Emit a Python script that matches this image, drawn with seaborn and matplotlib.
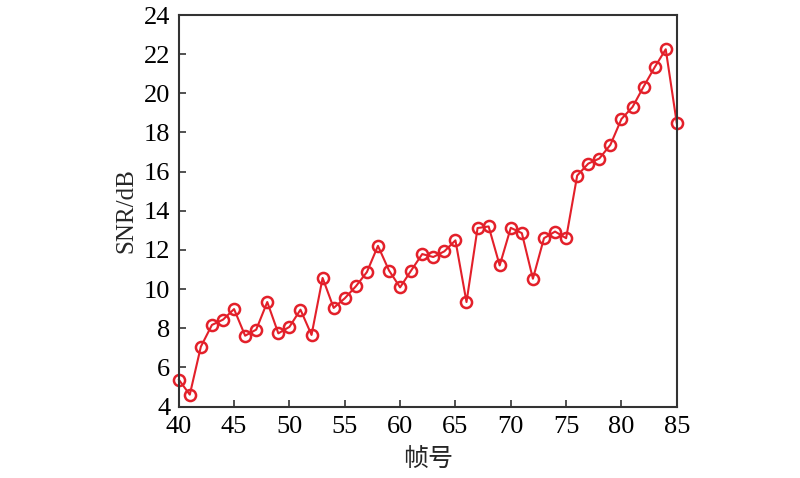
import pandas as pd
import matplotlib
matplotlib.use('Agg')
import matplotlib.pyplot as plt
import seaborn as sns

sns.set_style('ticks')
plt.rcParams['font.family'] = ['Liberation Serif', 'Noto Sans CJK SC']

frames = list(range(40, 86))
snr = [5.38, 4.61, 7.06, 8.17, 8.44, 8.98, 7.62, 7.93, 9.34, 7.74,
       8.07, 8.95, 7.66, 10.57, 9.04, 9.53, 10.14, 10.87, 12.21, 10.95,
       10.09, 10.95, 11.79, 11.64, 11.93, 12.49, 9.34, 13.12, 13.2, 11.21,
       13.13, 12.86, 10.53, 12.6, 12.94, 12.6, 15.8, 16.41, 16.67, 17.37,
       18.69, 19.3, 20.34, 21.33, 22.25, 18.47]

df = pd.DataFrame({'frame': frames, 'snr': snr})

fig = plt.figure(figsize=(8, 4.78), dpi=100)
ax = fig.add_axes([0.2234, 0.1494, 0.846 - 0.2234, 0.9686 - 0.1494])

sns.lineplot(data=df, x='frame', y='snr', ax=ax, color='#E3202A', linewidth=1.5,
             marker='o', markersize=8, markerfacecolor='none',
             markeredgecolor='#E3202A', markeredgewidth=1.8, clip_on=False)

ax.set_xlim(40, 85)
ax.set_ylim(4, 24)
ax.set_xticks(range(40, 86, 5))
ax.set_yticks(range(4, 25, 2))
ax.tick_params(direction='in', length=5, width=1.2, labelsize=19,
               top=False, right=False, colors='#333333', labelcolor='black')
ax.tick_params(axis='x', pad=7)
ax.tick_params(axis='y', pad=6)
for s in ax.spines.values():
    s.set_linewidth(1.5)
    s.set_color('#333333')

ax.set_xlabel('帧号', fontsize=18, labelpad=8)
ax.set_ylabel('SNR/dB', fontsize=18, labelpad=5)

fig.savefig('out.png', dpi=100)
